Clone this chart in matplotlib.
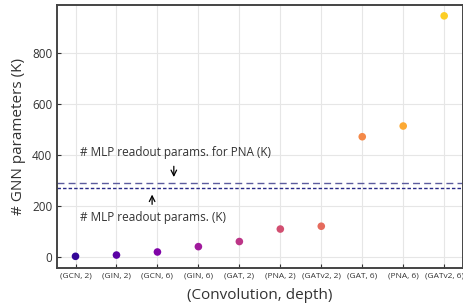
import numpy as np
import matplotlib
matplotlib.use("Agg")
import matplotlib.pyplot as plt

# ── data ──────────────────────────────────────────────────────────────────
models = ["(GCN, 2)", "(GIN, 2)", "(GCN, 6)", "(GIN, 6)", "(GAT, 2)",
          "(PNA, 2)", "(GATv2, 2)", "(GAT, 6)", "(PNA, 6)", "(GATv2, 6)"]
gnn_params_k = [4, 9, 21, 42, 62, 111, 122, 473, 515, 947]
mlp_readout_k = 271
mlp_readout_pna_k = 292

plt.rcParams["font.family"] = ["Open Sans", "DejaVu Sans"]
text_col = "#333333"

fig, ax = plt.subplots(figsize=(4.64, 3.06), dpi=100)
fig.subplots_adjust(left=0.123, right=0.997, top=0.984, bottom=0.124)

x = np.arange(len(models))
colors = plt.cm.plasma(np.linspace(0.07, 0.9, len(models)))
ax.scatter(x, gnn_params_k, c=colors, s=30, zorder=3, edgecolors="none")

ax.axhline(mlp_readout_pna_k, color="#5c5c9e", lw=1.0, ls=(0, (5, 3)), zorder=2)
ax.axhline(mlp_readout_k, color="#2a2a88", lw=1.0, ls=(0, (2.5, 1.5)), zorder=2)

ax.annotate("", xy=(2.4, mlp_readout_pna_k + 12), xytext=(2.4, 368),
            arrowprops=dict(arrowstyle="->", color="black", lw=0.9))
ax.text(0.12, 411, "# MLP readout params. for PNA (K)", fontsize=8.5,
        color=text_col, va="center", ha="left")
ax.annotate("", xy=(1.87, mlp_readout_k - 14), xytext=(1.87, 197),
            arrowprops=dict(arrowstyle="->", color="black", lw=0.9))
ax.text(0.12, 155, "# MLP readout params. (K)", fontsize=8.5,
        color=text_col, va="center", ha="left")

ax.set_xlim(-0.45, 9.45)
ax.set_ylim(-42, 990)
ax.set_xticks(x)
ax.set_xticklabels(models, fontsize=6)
ax.set_yticks([0, 200, 400, 600, 800])
ax.tick_params(axis="y", labelsize=8.5, colors=text_col, direction="in", length=3)
ax.tick_params(axis="x", colors=text_col, direction="in", length=3)
ax.grid(True, color="#e6e6e6", lw=0.8, zorder=0)
ax.set_axisbelow(True)
for s in ax.spines.values():
    s.set_color("#444444")
    s.set_linewidth(1.4)

ax.set_xlabel("(Convolution, depth)", fontsize=11, color=text_col, labelpad=6)
ax.set_ylabel("# GNN parameters (K)", fontsize=11, color=text_col, labelpad=4)

plt.savefig("out.png", dpi=100)
